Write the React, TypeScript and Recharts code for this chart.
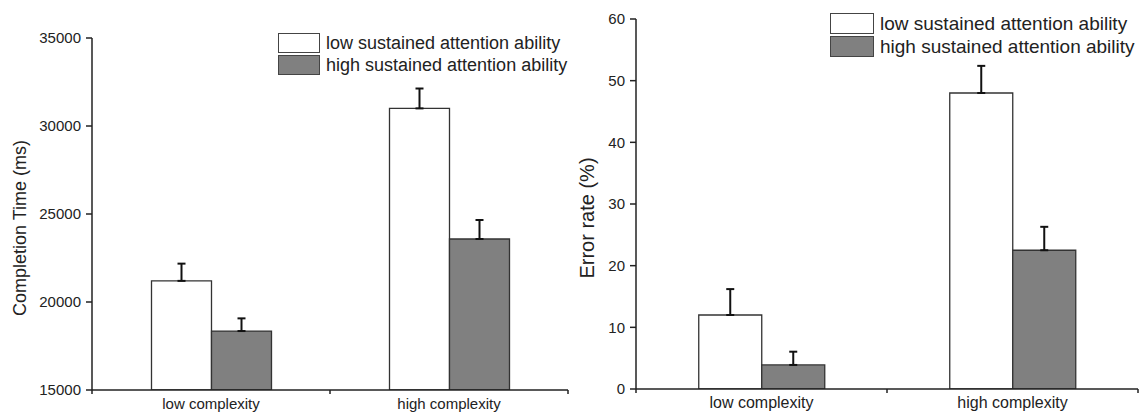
import { BarChart, Bar, XAxis, YAxis, ErrorBar, Legend, Label } from 'recharts';

const categories = ['low complexity', 'high complexity'];
const seriesNames = ['low sustained attention ability', 'high sustained attention ability'];

// completion time (ms), mean and upper error
const timeLowAbility = [21200, 31000];
const timeLowAbilityErr = [980, 1130];
const timeHighAbility = [18350, 23580];
const timeHighAbilityErr = [720, 1080];
const timeTicks = [15000, 20000, 25000, 30000, 35000];

// error rate (%)
const errLowAbility = [12, 48];
const errLowAbilityErr = [4.2, 4.4];
const errHighAbility = [3.9, 22.5];
const errHighAbilityErr = [2.15, 3.8];
const errTicks = [0, 10, 20, 30, 40, 50, 60];

const INK = '#222';
const GRAY = '#808080';

const timeData = categories.map((name, i) => ({
  name,
  low: timeLowAbility[i],
  high: timeHighAbility[i],
  lowErr: [0, timeLowAbilityErr[i]],
  highErr: [0, timeHighAbilityErr[i]],
}));

const errData = categories.map((name, i) => ({
  name,
  low: errLowAbility[i],
  high: errHighAbility[i],
  lowErr: [0, errLowAbilityErr[i]],
  highErr: [0, errHighAbilityErr[i]],
}));

function makeCategoryTick(fontSize: number) {
  return function CategoryTick(props: any) {
    const { x, y, payload, width, visibleTicksCount, index } = props;
    const band = width && visibleTicksCount ? width / visibleTicksCount : (payload.offset || 0) * 2;
    const left = x - band / 2;
    const right = x + band / 2;
    return (
      <g>
        <line x1={left} x2={left} y1={y} y2={y + 4} stroke={INK} strokeWidth={1.5} />
        {index === visibleTicksCount - 1 && (
          <line x1={right} x2={right} y1={y} y2={y + 4} stroke={INK} strokeWidth={1.5} />
        )}
        <text x={x} y={y + 19} textAnchor="middle" fontSize={fontSize} fill={INK}>
          {payload.value}
        </text>
      </g>
    );
  };
}

function makeLegend(rowHeight: number, fontSize: number, boxW: number) {
  return function LegendContent(props: any) {
    const payload = [...(props.payload || [])].sort(
      (a: any, b: any) => seriesNames.indexOf(a.value) - seriesNames.indexOf(b.value)
    );
    return (
      <div>
        {payload.map((entry: any) => (
          <div key={entry.value} style={{ display: 'flex', alignItems: 'center', height: rowHeight }}>
            <span
              style={{
                display: 'inline-block',
                width: boxW,
                height: rowHeight - 2,
                boxSizing: 'border-box',
                border: '1.5px solid #444',
                background: entry.color,
                marginRight: 6,
              }}
            />
            <span style={{ fontSize, color: INK, whiteSpace: 'nowrap' }}>{entry.value}</span>
          </div>
        ))}
      </div>
    );
  };
}

function yLabel(text: string, dx: number, dy: number, fontSize: number) {
  return (props: any) => {
    const vb = props.viewBox;
    const cx = vb.x + dx;
    const cy = vb.y + vb.height / 2 + dy;
    return (
      <text
        x={cx}
        y={cy}
        transform={`rotate(-90 ${cx} ${cy})`}
        textAnchor="middle"
        dominantBaseline="central"
        fontSize={fontSize}
        fill={INK}
      >
        {text}
      </text>
    );
  };
}

function Panel({ data, ticks, domain, yTitle, width, height, margin, xHeight, yWidth, legendPos, tickFont, labelFont, legendFont, labelDx, labelDy, rowHeight, boxW }: any) {
  return (
    <BarChart width={width} height={height} data={data} margin={margin} barCategoryGap="25%" barGap={0}>
      <XAxis
        dataKey="name"
        height={xHeight}
        axisLine={{ stroke: INK, strokeWidth: 1.5 }}
        tickLine={false}
        tickSize={0}
        tickMargin={0}
        interval={0}
        tick={makeCategoryTick(tickFont.x)}
      />
      <YAxis
        domain={domain}
        ticks={ticks}
        interval={0}
        width={yWidth}
        allowDataOverflow
        tickSize={6}
        tickMargin={5}
        axisLine={{ stroke: INK, strokeWidth: 1.5 }}
        tickLine={{ stroke: INK, strokeWidth: 1.5 }}
        tick={{ fontSize: tickFont.y, fill: INK }}
      >
        <Label content={yLabel(yTitle, labelDx, labelDy, labelFont)} />
      </YAxis>
      <Legend
        layout="vertical"
        align="center"
        verticalAlign="middle"
        wrapperStyle={{ left: legendPos.left, top: legendPos.top, width: 'auto', height: 'auto' }}
        content={makeLegend(rowHeight, legendFont, boxW)}
      />
      <Bar dataKey="low" name={seriesNames[0]} fill="#ffffff" stroke="#333" strokeWidth={1.3} isAnimationActive={false}>
        <ErrorBar dataKey="lowErr" direction="y" width={4} stroke="#111" strokeWidth={2} />
      </Bar>
      <Bar dataKey="high" name={seriesNames[1]} fill={GRAY} stroke="#333" strokeWidth={1.3} isAnimationActive={false}>
        <ErrorBar dataKey="highErr" direction="y" width={4} stroke="#111" strokeWidth={2} />
      </Bar>
    </BarChart>
  );
}

export default function App() {
  return (
    <div
      style={{
        position: 'absolute',
        left: 0,
        top: 0,
        width: 1146,
        height: 416,
        background: '#fff',
        fontFamily: '"Liberation Sans", Arial, sans-serif',
      }}
    >
      <div style={{ position: 'absolute', left: 0, top: 0 }}>
        <Panel
          data={timeData}
          ticks={timeTicks}
          domain={[15000, 35000]}
          yTitle="Completion Time (ms)"
          width={580}
          height={416}
          margin={{ top: 38, right: 12, bottom: 0, left: 0 }}
          xHeight={26}
          yWidth={92}
          legendPos={{ left: 278, top: 32 }}
          tickFont={{ x: 15, y: 15 }}
          labelFont={18}
          legendFont={18}
          labelDx={20}
          labelDy={14}
          rowHeight={22}
          boxW={42}
        />
      </div>
      <div style={{ position: 'absolute', left: 570, top: 0 }}>
        <Panel
          data={errData}
          ticks={errTicks}
          domain={[0, 60]}
          yTitle="Error rate (%)"
          width={576}
          height={416}
          margin={{ top: 19, right: 8, bottom: 0, left: 0 }}
          xHeight={27}
          yWidth={66}
          legendPos={{ left: 260, top: 12 }}
          tickFont={{ x: 16, y: 15 }}
          labelFont={20}
          legendFont={19}
          labelDx={17}
          labelDy={14}
          rowHeight={23}
          boxW={44}
        />
      </div>
    </div>
  );
}
